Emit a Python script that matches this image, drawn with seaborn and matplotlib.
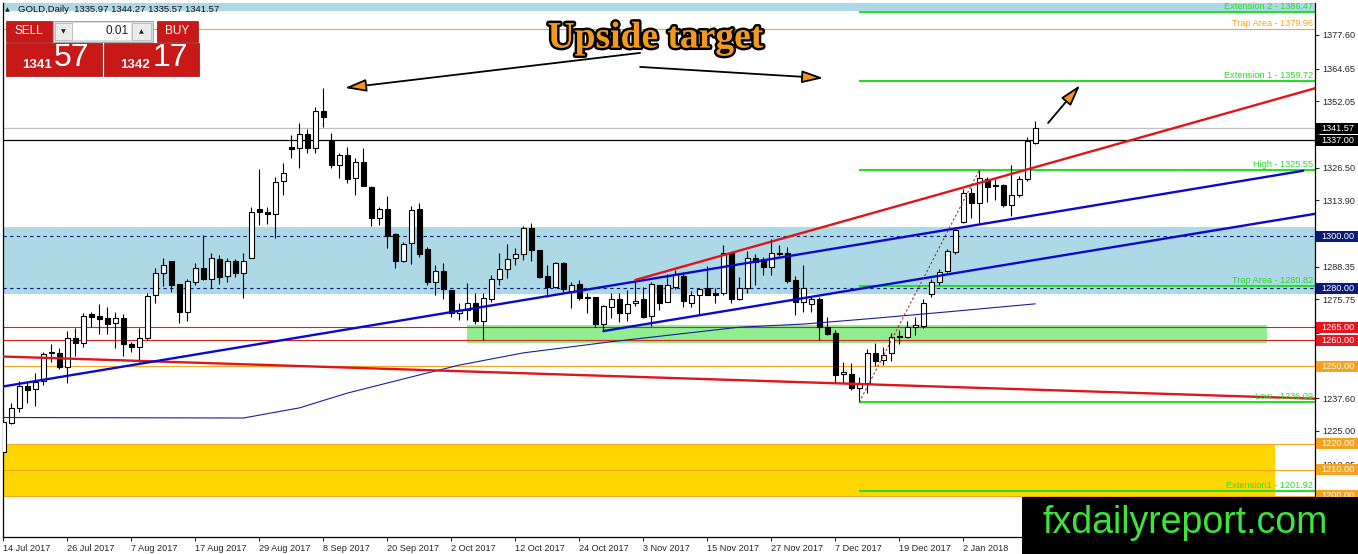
import numpy as np
import matplotlib
matplotlib.use("Agg")
import matplotlib.pyplot as plt
import matplotlib.patheffects as pe
from matplotlib.patches import Rectangle
import seaborn as sns

# GOLD daily candles, 14 Jul 2017 .. mid Jan 2018
opens = [1217.0, 1228.2, 1233.7, 1242.4, 1241.1, 1244.4, 1255.0, 1255.2, 1249.5, 1260.7,
         1258.8, 1270.1, 1269.3, 1268.4, 1266.5, 1268.4, 1258.5, 1257.2, 1260.7, 1277.4,
         1286.0, 1290.5, 1281.7, 1271.0, 1282.5, 1287.7, 1283.5, 1291.2, 1284.7, 1290.5,
         1286.0, 1291.8, 1310.5, 1309.3, 1308.5, 1321.4, 1334.3, 1334.0, 1339.3, 1334.0,
         1348.4, 1336.9, 1327.5, 1331.4, 1322.4, 1328.8, 1319.2, 1307.0, 1310.4, 1300.9,
         1290.6, 1297.6, 1310.4, 1295.0, 1282.5, 1286.6, 1279.3, 1270.3, 1271.6, 1274.2,
         1267.5, 1275.7, 1283.4, 1287.3, 1291.5, 1293.1, 1303.1, 1294.8, 1284.7, 1280.4,
         1289.9, 1278.7, 1281.6, 1276.8, 1276.8, 1266.2, 1272.7, 1275.7, 1270.6, 1274.2,
         1275.7, 1269.3, 1281.3, 1274.8, 1280.4, 1284.7, 1274.4, 1277.4, 1280.0, 1278.0,
         1278.0, 1293.5, 1275.7, 1280.0, 1291.5, 1291.2, 1288.3, 1293.7, 1293.5, 1283.2,
         1274.8, 1274.0, 1275.7, 1265.2, 1262.6, 1247.0, 1247.0, 1241.4, 1243.6, 1254.9,
         1252.3, 1254.9, 1261.6, 1261.1, 1265.0, 1265.5, 1277.8, 1282.5, 1286.8, 1294.1,
         1305.7, 1316.8, 1312.7, 1322.0, 1319.7, 1319.8, 1312.1, 1316.0, 1322.0, 1335.97]
highs = [1232.5, 1235.6, 1244.3, 1244.0, 1247.2, 1255.6, 1258.5, 1256.9, 1263.5, 1264.6,
         1270.6, 1271.0, 1273.9, 1272.7, 1270.7, 1270.1, 1259.4, 1264.6, 1278.3, 1287.7,
         1291.8, 1290.5, 1281.7, 1283.5, 1289.9, 1300.5, 1293.5, 1292.8, 1291.5, 1291.2,
         1293.7, 1311.4, 1325.8, 1311.4, 1323.0, 1328.4, 1339.1, 1343.8, 1341.2, 1349.7,
         1357.1, 1339.7, 1332.0, 1334.3, 1330.1, 1333.9, 1319.4, 1311.2, 1315.6, 1301.2,
         1297.9, 1311.7, 1313.0, 1296.0, 1289.0, 1289.9, 1279.3, 1274.4, 1281.9, 1278.3,
         1278.3, 1285.1, 1293.7, 1297.0, 1295.4, 1304.0, 1305.3, 1294.8, 1289.0, 1290.3,
         1290.3, 1282.5, 1283.2, 1278.0, 1276.8, 1273.6, 1278.3, 1278.0, 1279.3, 1282.5,
         1280.4, 1282.5, 1281.3, 1285.5, 1287.0, 1286.4, 1279.1, 1279.6, 1288.6, 1280.0,
         1296.7, 1294.1, 1284.2, 1294.5, 1293.2, 1292.2, 1298.9, 1296.7, 1296.0, 1284.7,
         1289.0, 1276.8, 1276.8, 1268.8, 1263.9, 1251.7, 1251.1, 1245.7, 1256.5, 1258.8,
         1257.5, 1262.9, 1263.9, 1267.5, 1268.8, 1275.7, 1283.4, 1287.3, 1295.0, 1303.5,
         1318.1, 1318.5, 1325.55, 1323.0, 1322.0, 1320.0, 1327.5, 1323.3, 1338.2, 1344.27]
lows = [1214.5, 1227.7, 1232.5, 1235.9, 1234.6, 1242.7, 1251.7, 1248.8, 1243.4, 1253.9,
        1257.5, 1265.2, 1262.3, 1262.4, 1256.9, 1253.9, 1255.6, 1251.7, 1260.1, 1274.2,
        1280.9, 1278.4, 1266.7, 1267.5, 1281.3, 1283.2, 1280.2, 1281.6, 1282.5, 1284.2,
        1276.1, 1291.5, 1304.4, 1304.6, 1299.2, 1316.0, 1330.1, 1326.2, 1332.3, 1332.3,
        1342.3, 1326.2, 1322.4, 1320.4, 1316.0, 1319.4, 1304.0, 1304.4, 1295.4, 1287.7,
        1290.3, 1289.4, 1292.2, 1281.3, 1277.4, 1275.7, 1269.0, 1267.8, 1267.8, 1266.2,
        1260.0, 1274.8, 1281.3, 1284.1, 1289.0, 1290.9, 1290.6, 1283.8, 1276.8, 1280.0,
        1278.7, 1272.3, 1275.6, 1270.6, 1265.2, 1263.7, 1268.4, 1267.1, 1267.5, 1273.2,
        1268.4, 1265.5, 1271.6, 1274.8, 1279.6, 1272.7, 1272.9, 1269.7, 1277.4, 1274.2,
        1277.4, 1274.2, 1275.5, 1278.0, 1281.3, 1285.1, 1285.1, 1292.4, 1281.9, 1269.7,
        1271.0, 1271.0, 1260.1, 1262.0, 1243.4, 1243.6, 1240.7, 1236.09, 1239.8, 1250.0,
        1250.4, 1252.1, 1258.6, 1260.7, 1262.0, 1264.6, 1276.5, 1281.3, 1286.4, 1293.2,
        1305.3, 1307.0, 1305.3, 1313.4, 1314.0, 1311.5, 1307.8, 1315.1, 1321.5, 1335.57]
closes = [1228.6, 1233.7, 1242.4, 1240.8, 1244.0, 1254.7, 1255.4, 1249.5, 1260.7, 1258.8,
          1269.3, 1269.1, 1268.3, 1266.2, 1268.4, 1258.4, 1257.5, 1260.7, 1277.0, 1286.0,
          1288.8, 1281.3, 1271.0, 1282.8, 1287.7, 1283.6, 1291.5, 1284.5, 1290.5, 1286.0,
          1290.6, 1309.5, 1309.3, 1308.5, 1321.1, 1324.5, 1333.5, 1339.3, 1334.0, 1348.4,
          1346.1, 1327.5, 1331.4, 1322.0, 1328.8, 1319.4, 1307.0, 1310.4, 1300.1, 1290.6,
          1297.0, 1310.2, 1293.1, 1282.5, 1286.8, 1279.6, 1270.6, 1271.6, 1274.2, 1267.5,
          1276.1, 1283.4, 1287.3, 1291.2, 1293.1, 1303.1, 1294.8, 1284.5, 1280.4, 1289.9,
          1279.6, 1281.3, 1276.1, 1276.1, 1266.2, 1273.2, 1275.7, 1270.6, 1273.9, 1275.2,
          1269.0, 1281.6, 1274.4, 1281.3, 1285.5, 1275.2, 1277.4, 1279.6, 1277.4, 1277.4,
          1293.5, 1275.7, 1280.0, 1291.5, 1290.2, 1288.1, 1293.7, 1293.2, 1282.9, 1274.8,
          1280.0, 1275.7, 1265.0, 1262.4, 1246.6, 1247.9, 1241.4, 1243.6, 1255.2, 1252.1,
          1254.3, 1261.3, 1261.1, 1264.9, 1265.9, 1274.4, 1282.5, 1286.4, 1294.5, 1302.5,
          1316.8, 1312.7, 1322.4, 1318.9, 1319.4, 1312.1, 1316.0, 1322.0, 1336.9, 1341.57]

date_labels = ["14 Jul 2017", "26 Jul 2017", "7 Aug 2017", "17 Aug 2017", "29 Aug 2017",
               "8 Sep 2017", "20 Sep 2017", "2 Oct 2017", "12 Oct 2017", "24 Oct 2017",
               "3 Nov 2017", "15 Nov 2017", "27 Nov 2017", "7 Dec 2017", "19 Dec 2017",
               "2 Jan 2018"]

# slow moving average (thin blue)
ma_bars = [0, 30, 37, 43, 52, 57, 65, 76, 92, 100, 108, 118, 129]
ma_values = [1230.2, 1230.0, 1233.9, 1239.6, 1246.6, 1250.4, 1255.1, 1259.4, 1265.0,
             1266.2, 1268.2, 1270.9, 1274.0]

# trend lines: (bar0, bar1), (price0, price1)
red_down = ((-0.04, 164.0), (1253.7, 1237.45))
blue_upper = ((-0.04, 162.5), (1242.15, 1325.3))
blue_lower = ((75, 164.0), (1263.5, 1308.7))
red_up = ((79, 164.0), (1283.2, 1357.1))
fib_leg = ((107, 122), (1236.09, 1325.55))

# fibo / levels drawn from the swing low to the right
fib_names = ["Extension 2", "Extension 1", "High", "Trap Area", "Low", "Extension1"]
fib_values = [1386.47, 1359.72, 1325.55, 1280.82, 1236.09, 1201.92]
trap_top = 1379.96

# price scale; the ones hidden under the tags get no text
axis_ticks = [1377.60, 1364.65, 1352.05, 1339.45, 1326.50, 1313.90, 1300.95, 1288.35,
              1275.75, 1262.80, 1250.20, 1237.60, 1225.00, 1212.05, 1199.45]
axis_labels = ["1377.60", "1364.65", "1352.05", "", "1326.50", "1313.90", "", "1288.35",
               "1275.75", "", "", "1237.60", "1225.00", "1212.05", ""]
tag_values = [1341.57, 1337.00, 1300.00, 1280.00, 1265.00, 1260.00, 1250.00, 1220.00,
              1210.00, 1200.00]
tag_colors = ["black", "black", "#0B1A78", "#0B1A78", "#E8141E", "#E8141E", "#F5A21E",
              "#F5A21E", "#F5A21E", "#F5A21E"]

GREEN = "#2BDB2B"
ORANGE = "#F5A623"
RED_L = "#D8241C"
NAVY = "#0B1A78"

sns.set_style("white")
plt.rcParams["font.family"] = ["Liberation Sans", "DejaVu Sans"]

W, H = 1358, 554
fig = plt.figure(figsize=(W / 100, H / 100), dpi=100)
ax = fig.add_axes([3 / W, (H - 537) / H, 1312 / W, 534 / H])
ax.set_xlim(-0.04, 163.96)
ax.set_ylim(1184.15, 1389.93)

# zones
ax.axhspan(1277.7, 1303.7, color="#ADD8E6", zorder=0.5, lw=0)
ax.axhspan(1387.0, 1395.0, color="#ADD8E6", zorder=0.5, lw=0)
ax.add_patch(Rectangle((-1, 1200), 159.96, 20, facecolor="#FFD700", lw=0, zorder=0.5))
ax.add_patch(Rectangle((58.0, 1258.9), 99.9, 6.9, facecolor="#90EE90", lw=0, zorder=0.5))

# horizontal lines
ax.axhline(1341.57, color="#C0C0C0", lw=0.9, zorder=1)
ax.axhline(1337.00, color="black", lw=0.9, zorder=1)
for lvl in (1300.0, 1280.0):
    ax.axhline(lvl, color=NAVY, lw=0.8, ls=(0, (3, 3)), zorder=1)
for lvl in (1265.0, 1260.0):
    ax.axhline(lvl, color=RED_L, lw=0.8, zorder=1)
for lvl in (1250.0, 1220.0, 1210.0, 1200.0, trap_top):
    ax.axhline(lvl, color=ORANGE, lw=0.8, zorder=1)
for lvl in fib_values:
    ax.hlines(lvl, fib_leg[0][0], 164, color=GREEN, lw=1.5, zorder=1.5)

# candles
x = np.arange(len(opens))
o = np.array(opens)
c = np.array(closes)
up = c >= o
body_lo = np.minimum(o, c)
body_h = np.maximum(np.abs(c - o), 0.3)
ax.vlines(x, lows, highs, color="black", lw=0.8, zorder=3)
ax.bar(x[up], body_h[up], bottom=body_lo[up], width=0.6, color="white",
       edgecolor="black", lw=0.8, zorder=4)
ax.bar(x[~up], body_h[~up], bottom=body_lo[~up], width=0.6, color="black",
       edgecolor="black", lw=0.8, zorder=4)

# moving average and trend lines
sns.lineplot(x=ma_bars, y=ma_values, ax=ax, color="#1C1CA0", lw=0.8, zorder=5)
ax.plot(*red_down, color="#E0141A", lw=1.7, zorder=5)
ax.plot(*blue_upper, color="#0A0ACD", lw=1.7, zorder=5)
ax.plot(*blue_lower, color="#0A0ACD", lw=1.7, zorder=5)
ax.plot(*red_up, color="#E0141A", lw=1.7, zorder=5)
ax.plot(*fib_leg, color="#B02828", lw=0.8, ls=(0, (2, 2)), zorder=5)

# level captions
for name, val in zip(fib_names, fib_values):
    ax.text(163.7, val + 0.4, f"{name} - {val:.2f}", ha="right", va="bottom",
            color=GREEN, fontsize=6.6, zorder=6)
ax.text(163.7, trap_top + 0.4, f"Trap Area - {trap_top:.2f}", ha="right", va="bottom",
        color=ORANGE, fontsize=6.6, zorder=6)

# arrows and headline
arrow = dict(arrowstyle="-|>,head_length=1.3,head_width=0.38", fc="#F7941D",
             ec="black", lw=1.3, mutation_scale=10, shrinkA=0, shrinkB=0)
ax.annotate("", xy=(42.7, 1357.2), xytext=(79.6, 1370.7), arrowprops=arrow, zorder=7)
ax.annotate("", xy=(102.5, 1361.0), xytext=(79.6, 1365.3), arrowprops=arrow, zorder=7)
ax.annotate("", xy=(134.6, 1358.3), xytext=(130.6, 1343.7), arrowprops=arrow, zorder=7)
ax.text(81.5, 1376.4, "Upside target", ha="center", va="center", fontsize=27,
        family="Liberation Serif", weight="bold", color="#F39A1E", zorder=8,
        path_effects=[pe.withStroke(linewidth=3.5, foreground="black")])

# axes styling
ax.spines["top"].set_visible(False)
for side in ("left", "right", "bottom"):
    ax.spines[side].set_color("black")
    ax.spines[side].set_linewidth(0.9)
ax.yaxis.tick_right()
ax.set_yticks(axis_ticks)
ax.set_yticklabels(axis_labels)
ax.set_xticks(np.arange(0, 8 * len(date_labels), 8))
ax.set_xticklabels(date_labels)
plt.setp(ax.get_xticklabels(), ha="left")
ax.tick_params(axis="y", direction="out", length=3, width=0.8, pad=2, labelsize=6.6,
               right=True, left=False)
ax.tick_params(axis="x", direction="out", length=3, width=0.8, pad=2, labelsize=6.6,
               bottom=True)
ax.set_xlabel("")
ax.set_ylabel("")

# price tags on the right scale
tag_tr = ax.get_yaxis_transform()
for val, col in zip(tag_values, tag_colors):
    ax.add_patch(Rectangle((1.0008, val - 2.12), 0.032, 4.24, facecolor=col, lw=0,
                           transform=tag_tr, clip_on=False, zorder=9))
    ax.text(1.0175, val, f"{val:.2f}", transform=tag_tr, ha="center", va="center",
            color="white", fontsize=6.6, clip_on=False, zorder=10)

# overlay: trade panel, header and watermark (pixel coordinates)
ov = fig.add_axes([0, 0, 1, 1], zorder=10)
ov.set_xlim(0, W)
ov.set_ylim(H, 0)
ov.axis("off")
ov.patch.set_visible(False)


def box(x0, y0, x1, y1, fc, ec=None, lw=0.0):
    ov.add_patch(Rectangle((x0, y0), x1 - x0, y1 - y0, facecolor=fc,
                           edgecolor=ec if ec else fc, lw=lw))


ov.text(5, 10, "▲", fontsize=4.5, ha="left", va="center", color="#222222",
        family=["DejaVu Sans"])
ov.text(18, 10, "GOLD,Daily  1335.97 1344.27 1335.57 1341.57", fontsize=6.8,
        ha="left", va="center", color="#111111")

RED = "#C91818"
box(6, 21, 52, 42, RED, "#9E0E0E", 0.5)
ov.text(29, 31.5, "SELL", color="white", fontsize=8.5, ha="center", va="center")
box(53, 21, 153, 42, "#DADADA", "#9A9A9A", 0.6)
box(55, 23, 72, 40, "#EBEBEB", "#B5B5B5", 0.5)
box(73, 23, 131, 40, "white")
box(132, 23, 151, 40, "#EBEBEB", "#B5B5B5", 0.5)
ov.text(63.5, 31.5, "▼", fontsize=4.5, ha="center", va="center", family=["DejaVu Sans"])
ov.text(141.5, 31.5, "▲", fontsize=4.5, ha="center", va="center", family=["DejaVu Sans"])
ov.text(129, 31.5, "0.01", fontsize=8.5, ha="right", va="center", color="#222222")
box(157, 21, 198, 42, RED, "#9E0E0E", 0.5)
ov.text(177.5, 31.5, "BUY", color="white", fontsize=8.5, ha="center", va="center")
box(6, 43, 101.5, 76, RED, "#9E0E0E", 0.5)
box(104, 43, 199, 76, RED, "#9E0E0E", 0.5)
ov.text(22.5, 65, "1341", color="white", fontsize=9.5, weight="bold", ha="left", va="center")
ov.text(54, 58.5, "57", color="white", fontsize=23, ha="left", va="center")
ov.text(120.5, 65, "1342", color="white", fontsize=9.5, weight="bold", ha="left", va="center")
ov.text(153, 58.5, "17", color="white", fontsize=23, ha="left", va="center")

box(1022, 497, 1358, 554, "black")
ov.text(1185, 523, "fxdailyreport.com", color="#3DE43D", fontsize=27,
        ha="center", va="center")

fig.savefig("out.png", dpi=100, facecolor="white")
